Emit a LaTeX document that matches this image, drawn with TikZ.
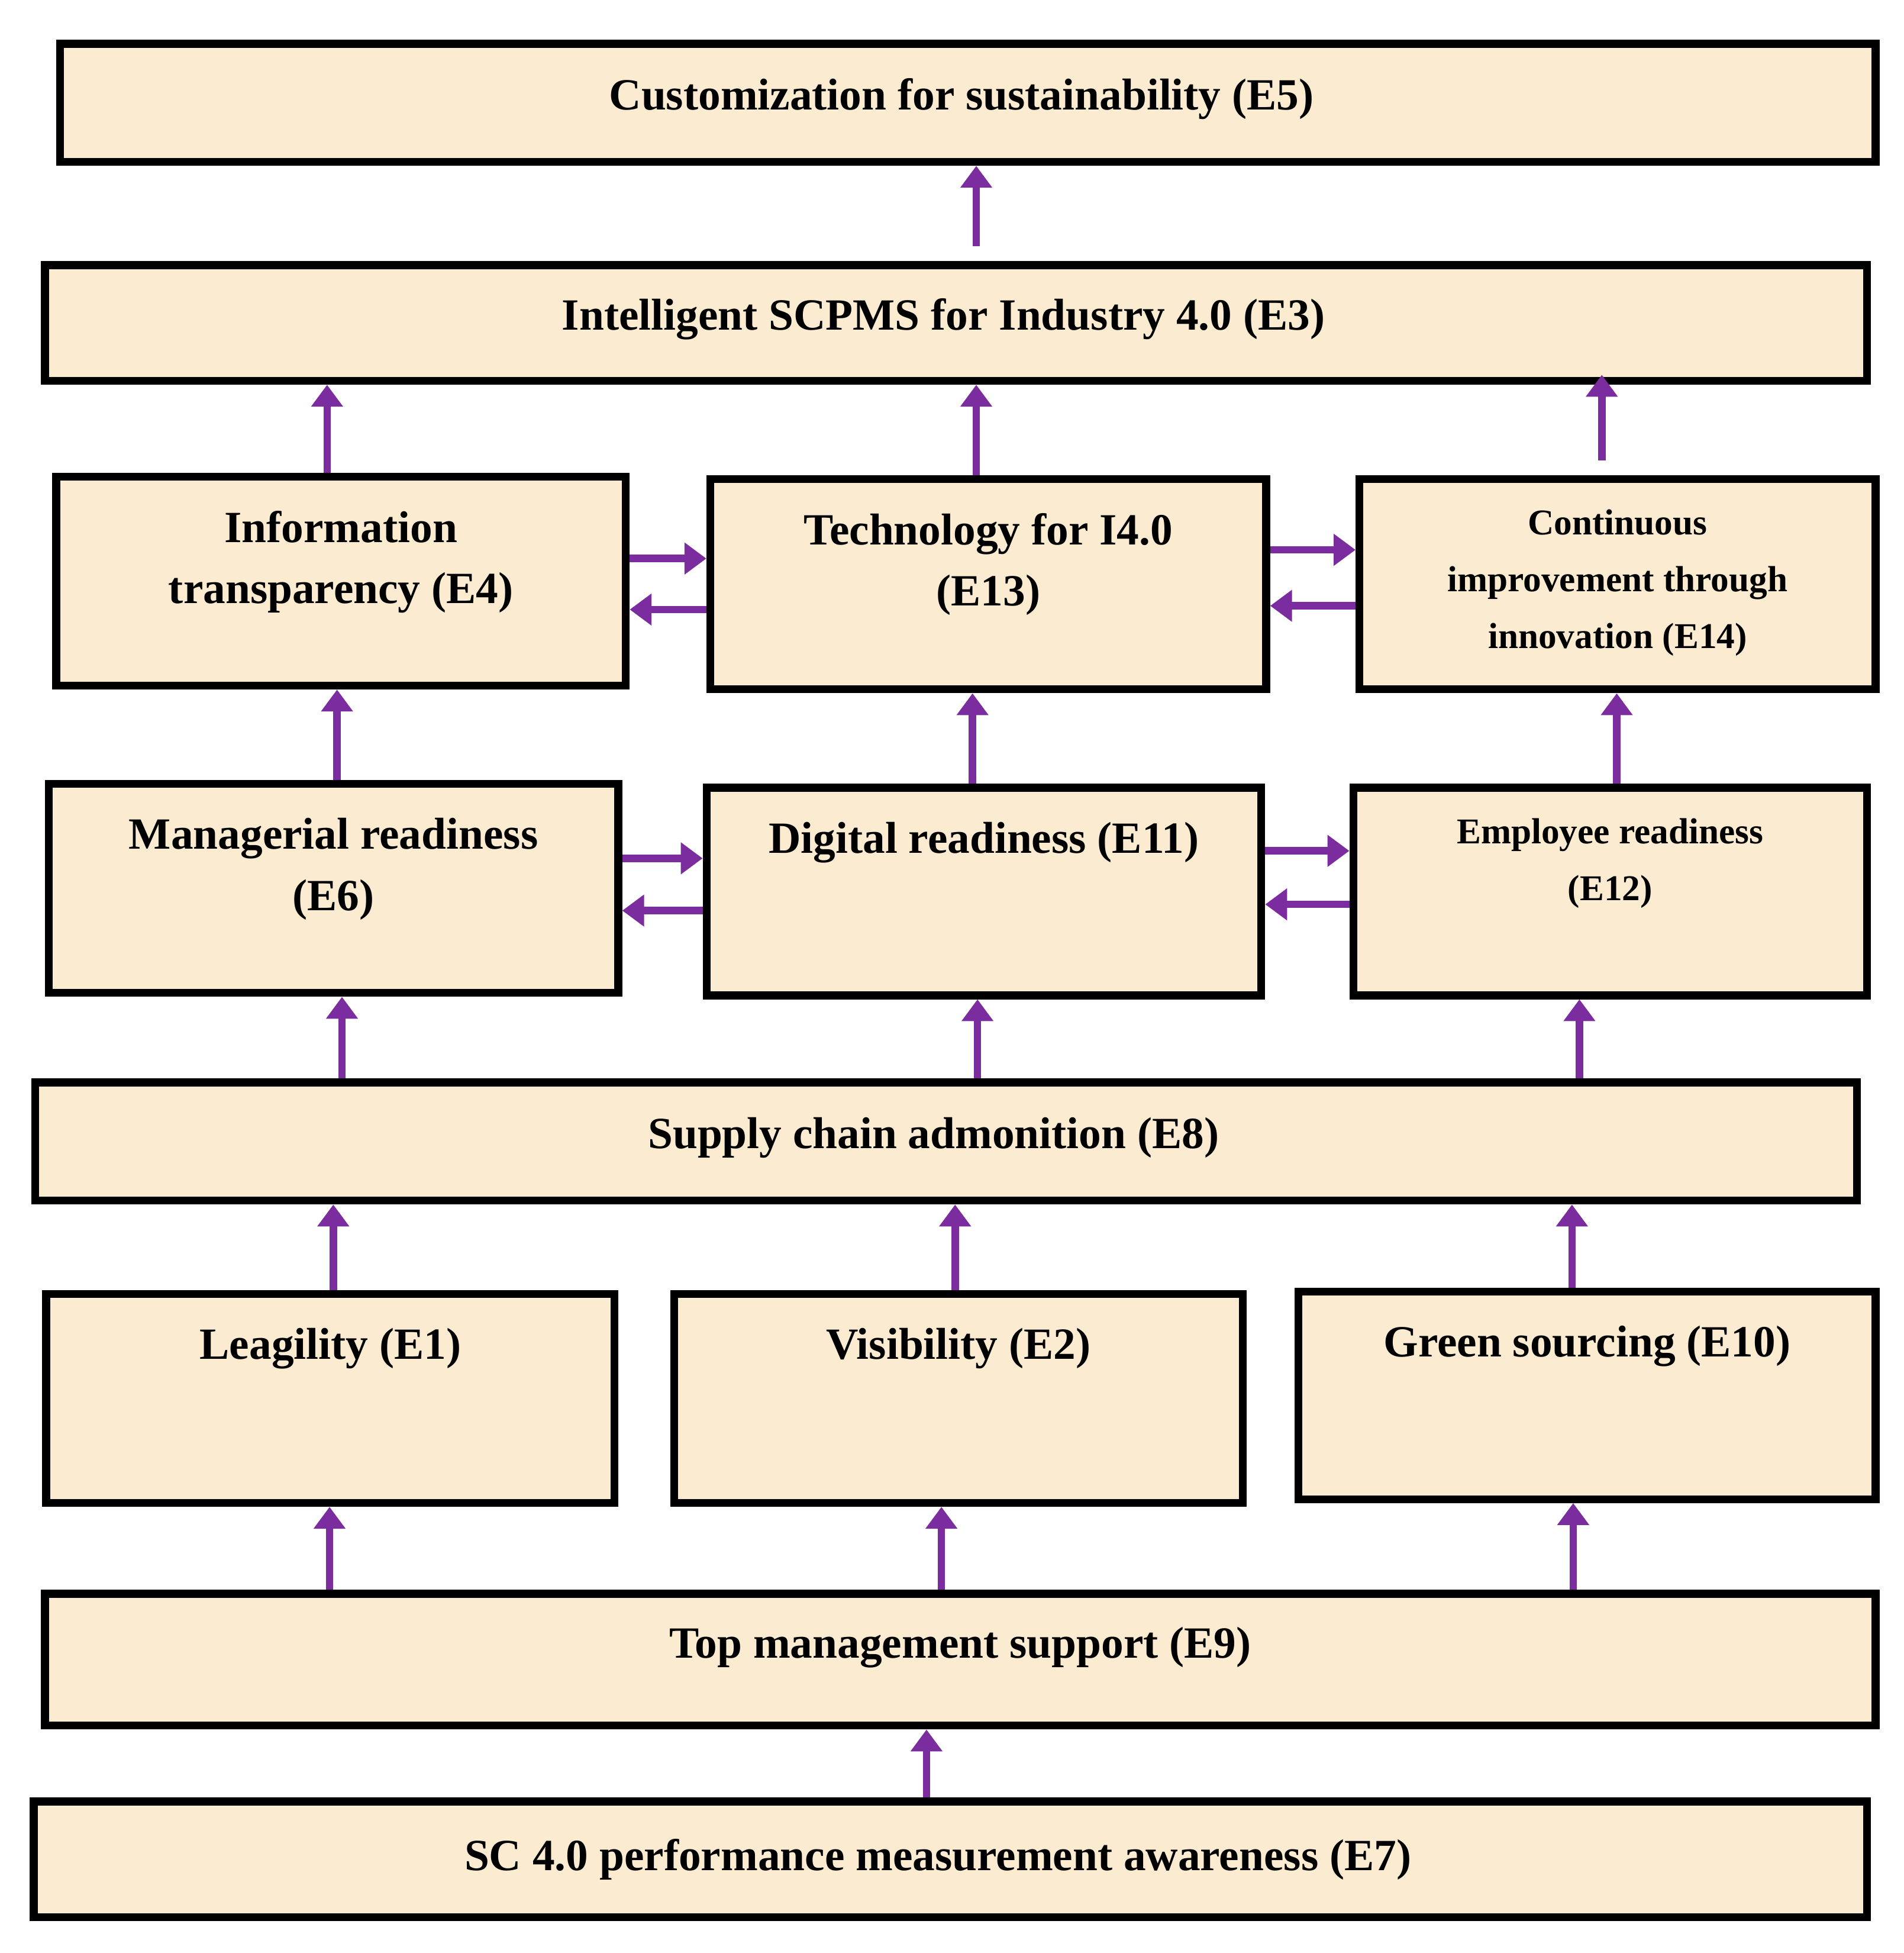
\documentclass[tikz,border=0pt]{standalone}
\usepackage{fontspec}
\setmainfont{Liberation Serif}
\usetikzlibrary{arrows.meta}
\definecolor{boxfill}{HTML}{FBEBD0}
\definecolor{arrcol}{HTML}{7B2C9E}
\begin{document}
\begin{tikzpicture}[
  box/.style={draw=black,line width=1.8pt,fill=boxfill,anchor=north west,inner sep=0pt},
  txt/.style={font=\fontsize{10.2pt}{14pt}\selectfont\bfseries,align=center,anchor=north,inner sep=0pt},
  stxt/.style={font=\fontsize{8.3pt}{13pt}\selectfont\bfseries,align=center,anchor=north,inner sep=0pt},
  arr/.style={draw=arrcol,line width=1.7pt,-{Triangle[length=5pt,width=7pt]}}]
\useasboundingbox (0,0) rectangle (15.31,-15.70);
\node[box,minimum width=14.60cm,minimum height=0.95cm] (e5) at (0.45,-0.32) {};
\node[box,minimum width=14.65cm,minimum height=0.93cm] (e3) at (0.33,-2.10) {};
\node[box,minimum width=4.58cm,minimum height=1.68cm] (e4) at (0.42,-3.80) {};
\node[box,minimum width=4.47cm,minimum height=1.69cm] (e13) at (5.68,-3.82) {};
\node[box,minimum width=4.15cm,minimum height=1.69cm] (e14) at (10.90,-3.82) {};
\node[box,minimum width=4.58cm,minimum height=1.68cm] (e6) at (0.36,-6.27) {};
\node[box,minimum width=4.46cm,minimum height=1.67cm] (e11) at (5.65,-6.30) {};
\node[box,minimum width=4.13cm,minimum height=1.67cm] (e12) at (10.85,-6.30) {};
\node[box,minimum width=14.65cm,minimum height=0.95cm] (e8) at (0.25,-8.67) {};
\node[box,minimum width=4.57cm,minimum height=1.68cm] (e1) at (0.34,-10.37) {};
\node[box,minimum width=4.57cm,minimum height=1.68cm] (e2) at (5.39,-10.37) {};
\node[box,minimum width=4.64cm,minimum height=1.67cm] (e10) at (10.41,-10.35) {};
\node[box,minimum width=14.72cm,minimum height=1.06cm] (e9) at (0.33,-12.78) {};
\node[box,minimum width=14.74cm,minimum height=0.93cm] (e7) at (0.24,-14.45) {};
% texts
\node[txt,anchor=center] (t5) at ([xshift=-0.05cm,yshift=0.03cm]e5.center) {Customization for sustainability (E5)};
\node[txt,anchor=center] (t3) at ([xshift=-0.1cm,yshift=0.03cm]e3.center) {Intelligent SCPMS for Industry 4.0 (E3)};
\node[txt] (t4) at ([yshift=-0.3cm]e4.north) {Information\\transparency (E4)};
\node[txt] (t13) at ([yshift=-0.3cm]e13.north) {Technology for I4.0\\(E13)};
\node[stxt] (t14) at ([yshift=-0.27cm]e14.north) {Continuous\\improvement through\\innovation (E14)};
\node[txt] (t6) at ([yshift=-0.3cm]e6.north) {Managerial readiness\\(E6)};
\node[txt] (t11) at ([yshift=-0.3cm]e11.north) {Digital readiness (E11)};
\node[stxt] (t12) at ([yshift=-0.27cm]e12.north) {Employee readiness\\(E12)};
\node[txt,anchor=center] (t8) at ([xshift=-0.1cm,yshift=0.03cm]e8.center) {Supply chain admonition (E8)};
\node[txt] (t1) at ([yshift=-0.3cm]e1.north) {Leagility (E1)};
\node[txt] (t2) at ([yshift=-0.3cm]e2.north) {Visibility (E2)};
\node[txt] (t10) at ([yshift=-0.3cm]e10.north) {Green sourcing (E10)};
\node[txt,anchor=center] (t9) at ([yshift=0.1cm]e9.center) {Top management support (E9)};
\node[txt,anchor=center] (t7) at ([xshift=-0.1cm]e7.center) {SC 4.0 performance measurement awareness (E7)};
% vertical arrows
\draw[arr] ([yshift=0.12cm]e3.north -| 7.85,0) -- (e5.south -| 7.85,0);
\draw[arr] (e4.north -| 2.63,0) -- (e3.south -| 2.63,0);
\draw[arr] (e13.north -| 7.85,0) -- (e3.south -| 7.85,0);
\draw[arr] ([yshift=0.12cm]e14.north -| 12.88,0) -- ([yshift=0.08cm]e3.south -| 12.88,0);
\draw[arr] (e6.north -| 2.71,0) -- (e4.south -| 2.71,0);
\draw[arr] (e11.north -| 7.82,0) -- (e13.south -| 7.82,0);
\draw[arr] (e12.north -| 13.00,0) -- (e14.south -| 13.00,0);
\draw[arr] (e8.north -| 2.75,0) -- (e6.south -| 2.75,0);
\draw[arr] (e8.north -| 7.86,0) -- (e11.south -| 7.86,0);
\draw[arr] (e8.north -| 12.70,0) -- (e12.south -| 12.70,0);
\draw[arr] (e1.north -| 2.68,0) -- (e8.south -| 2.68,0);
\draw[arr] (e2.north -| 7.68,0) -- (e8.south -| 7.68,0);
\draw[arr] (e10.north -| 12.64,0) -- (e8.south -| 12.64,0);
\draw[arr] (e9.north -| 2.65,0) -- (e1.south -| 2.65,0);
\draw[arr] (e9.north -| 7.57,0) -- (e2.south -| 7.57,0);
\draw[arr] (e9.north -| 12.65,0) -- (e10.south -| 12.65,0);
\draw[arr] (e7.north -| 7.45,0) -- (e9.south -| 7.45,0);
% horizontal arrows
\draw[arr] (e4.east |- 0,-4.49) -- (e13.west |- 0,-4.49);
\draw[arr] (e13.west |- 0,-4.90) -- (e4.east |- 0,-4.90);
\draw[arr] (e13.east |- 0,-4.42) -- (e14.west |- 0,-4.42);
\draw[arr] (e14.west |- 0,-4.87) -- (e13.east |- 0,-4.87);
\draw[arr] (e6.east |- 0,-6.90) -- (e11.west |- 0,-6.90);
\draw[arr] (e11.west |- 0,-7.32) -- (e6.east |- 0,-7.32);
\draw[arr] (e11.east |- 0,-6.84) -- (e12.west |- 0,-6.84);
\draw[arr] (e12.west |- 0,-7.27) -- (e11.east |- 0,-7.27);
\end{tikzpicture}
\end{document}
